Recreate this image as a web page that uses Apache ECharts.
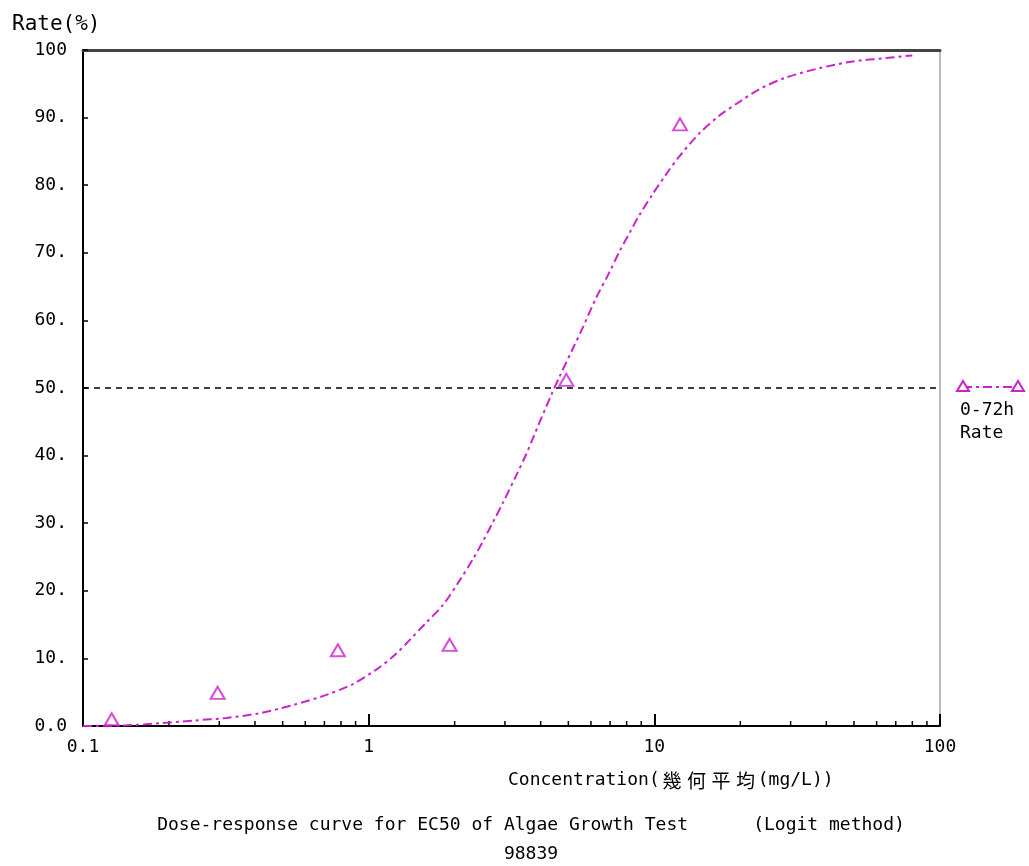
<!DOCTYPE html>
<html>
<head>
<meta charset="utf-8">
<script src="https://cdn.jsdelivr.net/npm/echarts@6/dist/echarts.min.js"></script>
<style>
html,body{margin:0;padding:0;background:#fff;}
#chart{width:1029px;height:866px;}
</style>
</head>
<body>
<div id="chart"></div>
<script>
// Observed data points (concentration mg/L, rate %)
var pointX = [0.126, 0.296, 0.78, 1.92, 4.92, 12.3];
var pointY = [1.0, 4.9, 11.2, 12.0, 51.2, 89.0];

// Fitted curve
var curveX = [0.1, 0.142, 0.186, 0.243, 0.318, 0.416, 0.543, 0.711, 0.88, 1.06, 1.22, 1.39, 1.59, 1.82, 2.08, 2.32, 2.51, 2.72, 2.95, 3.28, 3.56, 3.76, 4.35, 4.66, 5.18, 5.61, 6.25, 6.96, 7.55, 8.18, 8.87, 9.87, 10.99, 12.2, 14.4, 16.9, 19.8, 23.3, 28.8, 37.8, 49.4, 64.6, 80.0];
var curveY = [0.0, 0.1, 0.4, 0.8, 1.2, 1.9, 3.1, 4.6, 6.2, 8.3, 10.3, 12.7, 15.3, 17.9, 21.5, 24.7, 27.3, 30.1, 33.0, 37.0, 40.2, 42.6, 48.9, 51.7, 55.8, 58.9, 63.3, 67.1, 70.2, 72.9, 75.6, 78.7, 81.6, 84.2, 87.7, 90.3, 92.3, 94.2, 95.9, 97.3, 98.3, 98.8, 99.2];

var minorTicks = [0.2,0.3,0.4,0.5,0.6,0.7,0.8,0.9,2,3,4,5,6,7,8,9,20,30,40,50,60,70,80,90];
var yTickLabels = {0:'0.0',10:'10.',20:'20.',30:'30.',40:'40.',50:'50.',60:'60.',70:'70.',80:'80.',90:'90.',100:'100'};

var seriesName = '0-72h Rate';
var yAxisTitle = 'Rate(%)';
var xAxisTitle = 'Concentration({c|幾}{c|何}{c|平}{c|均}(mg/L))';
var titleLine1 = 'Dose-response curve for EC50 of Algae Growth Test      (Logit method)';
var titleLine2 = '98839';
var refLevel = 50;

var MAG = '#cc22cc';
var FONT = '"DejaVu Sans Mono", "Liberation Mono", monospace';

var chart = echarts.init(document.getElementById('chart'), null, {renderer:'canvas'});

var curveData = curveX.map(function(x,i){return [x, curveY[i]];});
var pointData = pointX.map(function(x,i){return [x, pointY[i]];});

chart.setOption({
  animation:false,
  backgroundColor:'#ffffff',
  textStyle:{fontFamily:FONT},
  grid:{left:83, right:89, top:50, bottom:140, show:true, borderColor:'#777', borderWidth:1, backgroundColor:'transparent'},
  xAxis:[{
    type:'log', logBase:10, min:0.1, max:100,
    axisLine:{lineStyle:{color:'#000', width:2}},
    axisTick:{inside:true, length:12, lineStyle:{color:'#000', width:2}},
    splitLine:{show:false},
    minorTick:{show:false},
    axisLabel:{color:'#000', fontSize:18, fontFamily:FONT, margin:12,
      formatter:function(v){ return v < 1 ? '0.1' : String(Math.round(v)); }}
  },{
    type:'log', logBase:10, min:0.1, max:100, position:'top',
    axisLine:{lineStyle:{color:'#444', width:3}},
    axisTick:{show:false}, axisLabel:{show:false}, splitLine:{show:false}
  }],
  yAxis:{
    type:'value', min:0, max:100, interval:10,
    axisLine:{show:true, lineStyle:{color:'#000', width:2}},
    axisTick:{inside:true, length:5, lineStyle:{color:'#000', width:1.5}},
    splitLine:{show:false},
    axisLabel:{color:'#000', fontSize:18, fontFamily:FONT, margin:16,
      formatter:function(v){ return yTickLabels[v] !== undefined ? yTickLabels[v] : ''; }}
  },
  series:[
    {
      type:'custom', name:'minor', silent:true, z:1,
      data:minorTicks.map(function(v){return [v,0];}),
      renderItem:function(params, api){
        var p = api.coord([api.value(0), 0]);
        return {type:'line', shape:{x1:p[0], y1:p[1], x2:p[0], y2:p[1]-5}, style:{stroke:'#000', lineWidth:1.5}};
      }
    },
    {
      type:'line', name:seriesName, data:curveData, smooth:0.3, showSymbol:false, symbol:'none',
      lineStyle:{color:MAG, width:2, type:[9,4,3,4]}, z:3,
      markLine:{silent:true, symbol:'none', label:{show:false},
        lineStyle:{color:'#000', width:1.5, type:[6,5]},
        data:[{yAxis:refLevel}]}
    },
    {
      type:'scatter', name:seriesName, data:pointData, symbol:'triangle', symbolSize:[14,12],
      itemStyle:{color:'rgba(255,255,255,0)', borderColor:MAG, borderWidth:2}, z:4
    }
  ],
  graphic:[
    {type:'text', left:12, top:14, style:{text:yAxisTitle, font:'21px '+FONT, fill:'#000'}},
    {type:'text', left:508, top:771, style:{text:xAxisTitle, font:'18px '+FONT, fill:'#000',
      rich:{c:{width:24.5, align:'center', fontSize:19, fontFamily:'"Noto Sans CJK JP", sans-serif', fill:'#000'}}}},
    {type:'text', x:531, y:816, style:{text:titleLine1, font:'18px '+FONT, fill:'#000', align:'center', verticalAlign:'top'}},
    {type:'text', x:531, y:845, style:{text:titleLine2, font:'18px '+FONT, fill:'#000', align:'center', verticalAlign:'top'}},
    {type:'line', shape:{x1:963, y1:387, x2:1018, y2:387}, style:{stroke:MAG, lineWidth:2, lineDash:[9,4,3,4]}},
    {type:'polygon', shape:{points:[[963,381],[957,391],[969,391]]}, style:{fill:'#fff', stroke:MAG, lineWidth:2}},
    {type:'polygon', shape:{points:[[1018,381],[1012,391],[1024,391]]}, style:{fill:'#fff', stroke:MAG, lineWidth:2}},
    {type:'text', left:960, top:401, style:{text:'0-72h', font:'18px '+FONT, fill:'#000'}},
    {type:'text', left:960, top:424, style:{text:'Rate', font:'18px '+FONT, fill:'#000'}}
  ]
});
</script>
</body>
</html>
